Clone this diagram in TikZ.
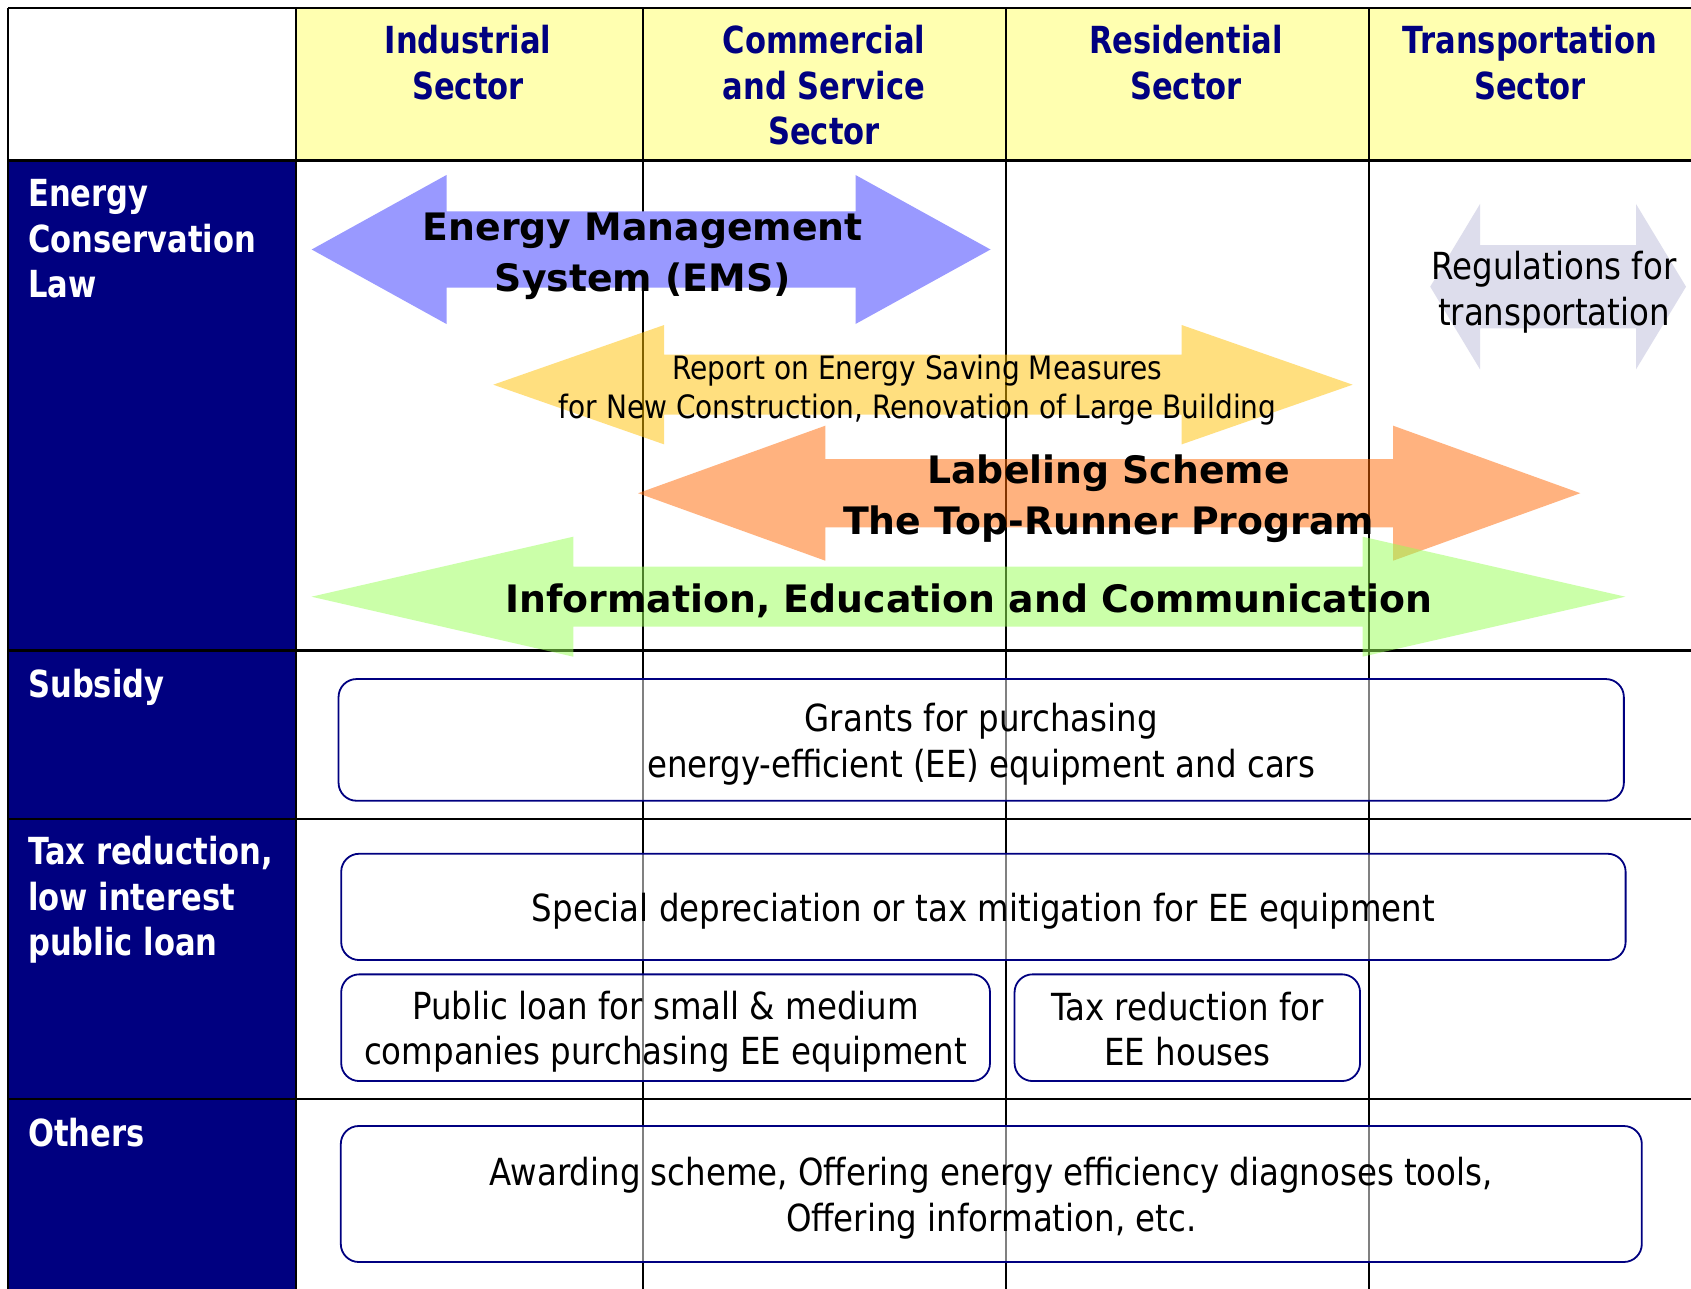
\documentclass[tikz,border=0pt]{standalone}
\usepackage{fontspec}
\setmainfont{DejaVu Sans}
\newfontfamily\narrowfont{DejaVu Sans}[FakeStretch=0.87]
\newfontfamily\headfont{DejaVu Sans}[FakeStretch=0.82]

\definecolor{navy}{HTML}{000080}
\definecolor{headyellow}{HTML}{FFFFB0}
\definecolor{emsblue}{HTML}{9999FF}
\definecolor{reportgold}{HTML}{FFC000}
\definecolor{labelorange}{HTML}{FF6600}
\definecolor{infogreen}{HTML}{99FF55}
\definecolor{reglav}{HTML}{DDDDEC}

\tikzset{
  hdr/.style={font=\headfont\bfseries\fontsize{37.3}{45.3}\selectfont, text=navy, align=center, inner sep=0pt},
  rowlabel/.style={font=\headfont\bfseries\fontsize{37.3}{45.3}\selectfont, text=white, align=left, anchor=west, inner sep=0pt},
  bigtxt/.style={font=\bfseries\fontsize{37.8}{51}\selectfont, align=center, inner sep=0pt},
  bodytxt/.style={font=\narrowfont\fontsize{37.3}{45.3}\selectfont, align=center, inner sep=0pt, text opacity=1},
  smalltxt/.style={font=\narrowfont\fontsize{32.2}{38.8}\selectfont, align=center, inner sep=0pt},
  measure/.style={draw=navy, line width=1.8pt, rounded corners=18pt,
    fill=white, fill opacity=0.5},
  boxtext/.style={label={[bodytxt, yshift=-4.3pt]center:{#1}}},
  boxtextup/.style={label={[bodytxt, yshift=-1.2pt]center:{#1}}},
  gridv/.style={line width=2pt, black},
  gridh/.style={line width=2.5pt, black},
}

% double-headed block arrow: #2 left tip x, #3 left head base x, #4 right head base x,
% #5 right tip x, #6 centre y, #7 head half height, #8 shaft half height
\newcommand\twowayarrow[8][]{%
  \fill[#1] (#2,#6) -- (#3,#6-#7) -- (#3,#6-#8) -- (#4,#6-#8) -- (#4,#6-#7)
    -- (#5,#6) -- (#4,#6+#7) -- (#4,#6+#8) -- (#3,#6+#8) -- (#3,#6+#7) -- cycle;}

\begin{document}
\begin{tikzpicture}[x=1pt, y=-1pt]
\useasboundingbox (0,0) rectangle (1691,1289);
\fill[white] (0,0) rectangle (1691,1289);

% header band and row label column
\fill[headyellow] (295.5,8) rectangle (1691,160.7);
\fill[navy] (8,160.7) rectangle (295.5,1289);

% table rules
\foreach \yy in {8,160.7,650.5,819,1099} \draw[gridh] (8,\yy) -- (1691,\yy);
\foreach \xx in {8,295.5,642.7,1006,1368.7} \draw[gridv] (\xx,8) -- (\xx,1289);

% measure arrows
\twowayarrow[emsblue]{311.7}{446.5}{855.5}{990.5}{249.5}{74.5}{38}
\twowayarrow[reportgold, fill opacity=0.5]{493.3}{664.2}{1181.6}{1352.6}{384.7}{59.7}{30}
\twowayarrow[labelorange, fill opacity=0.5]{638.1}{825.3}{1393.1}{1580.3}{493.2}{67.5}{34.2}
\twowayarrow[infogreen, fill opacity=0.5]{311.5}{573.3}{1362.5}{1625.3}{596.7}{60}{30}
\twowayarrow[reglav]{1430.2}{1480}{1636}{1686}{286.7}{82.7}{41.6}

% column headers
\node[hdr] (hInd) at (468,62.5) {Industrial\\Sector};
\node[hdr] (hCom) at (824,85.2) {Commercial\\and Service\\Sector};
\node[hdr] (hRes) at (1186,62.5) {Residential\\Sector};
\node[hdr] (hTra) at (1530,62.5) {Transportation\\Sector};

% row labels
\node[rowlabel] (rLaw) at (28,238.9) {Energy\\Conservation\\Law};
\node[rowlabel] (rSub) at (28,687) {Subsidy};
\node[rowlabel] (rTax) at (28,900) {Tax reduction,\\low interest\\public loan};
\node[rowlabel] (rOth) at (28,1132.3) {Others};

% arrow captions
\node[bigtxt] (ems) at (642.7,256) {Energy Management\\System (EMS)};
\node[smalltxt] (report) at (917.5,390.5) {Report on Energy Saving Measures\\for New Construction, Renovation of Large Building};
\node[bigtxt] (label) at (1108.6,498.8) {Labeling Scheme\\The Top-Runner Program};
\node[bigtxt] (info) at (968.9,600.7) {Information, Education and Communication};
\node[bodytxt] (regs) at (1554,292.3) {Regulations for\\transportation};

% measure boxes
\node[measure, minimum width=1285.3pt, minimum height=121.7pt,
  boxtext={Grants for purchasing\\energy-efficient (EE) equipment and cars}] (grants) at (981.2,739.9) {};
\node[measure, minimum width=1284.4pt, minimum height=106.3pt,
  boxtext={Special depreciation or tax mitigation for EE equipment}] (special) at (983.4,906.9) {};
\node[measure, minimum width=648.8pt, minimum height=106.7pt,
  boxtext={Public loan for small \& medium\\companies purchasing EE equipment}] (publoan) at (665.6,1027.7) {};
\node[measure, minimum width=345.5pt, minimum height=106.7pt,
  boxtextup={Tax reduction for\\EE houses}] (taxhouse) at (1187.3,1027.7) {};
\node[measure, minimum width=1301pt, minimum height=136pt,
  boxtext={Awarding scheme, Offering energy efficiency diagnoses tools,\\Offering information, etc.}] (award) at (991.3,1194) {};
\end{tikzpicture}
\end{document}
